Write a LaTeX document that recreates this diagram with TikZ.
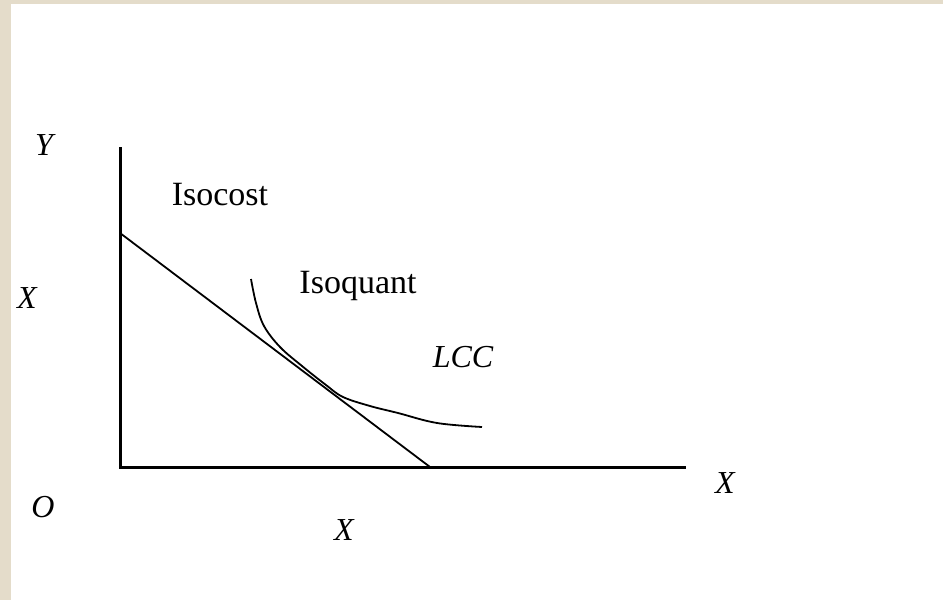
\documentclass[tikz,border=0pt]{standalone}
\usepackage{fontspec}
\setmainfont{Liberation Serif}
\definecolor{paper}{RGB}{228,220,202}
\begin{document}
\begin{tikzpicture}[x=1pt,y=-1pt,
  every node/.style={inner sep=0pt,anchor=base,font=\fontsize{34}{38}\selectfont},
  lbl/.style={font=\fontsize{32}{36}\selectfont\itshape},
  axis/.style={line width=3pt},
  curve/.style={line width=1.8pt}]
% paper edge and page
\fill[paper] (0,0) rectangle (943,600);
\fill[white] (11,4) rectangle (943,600);
\useasboundingbox (0,0) rectangle (943,600);
% axes
\coordinate (O) at (120,467); \coordinate (Ytop) at (120,147); \coordinate (Xend) at (686,467);
\draw[axis] (Ytop) -- (O) -- (Xend);
% isocost line
\coordinate (C1) at (120,233); \coordinate (C2) at (430,467);
\draw[curve] (C1) -- (C2);
% isoquant, tangent to the isocost
\draw[curve] plot[smooth,tension=0.6] coordinates {(251,279) (256,303) (264,326) (280,347) (302,366) (326,385) (343,397) (370,406) (398,413) (437,423) (482,427)};
% labels
\node[lbl] (ylab) at (44,155) {Y};
\node[lbl] (xleft) at (27,308) {X};
\node[lbl] (olab) at (43,517) {O};
\node[lbl] (xright) at (725,493) {X};
\node[lbl] (xbot) at (344,540) {X};
\node (isocost) at (220,205) {Isocost};
\node (isoquant) at (358,293) {Isoquant};
\node[lbl] (lcc) at (463,367) {LCC};
\end{tikzpicture}
\end{document}
